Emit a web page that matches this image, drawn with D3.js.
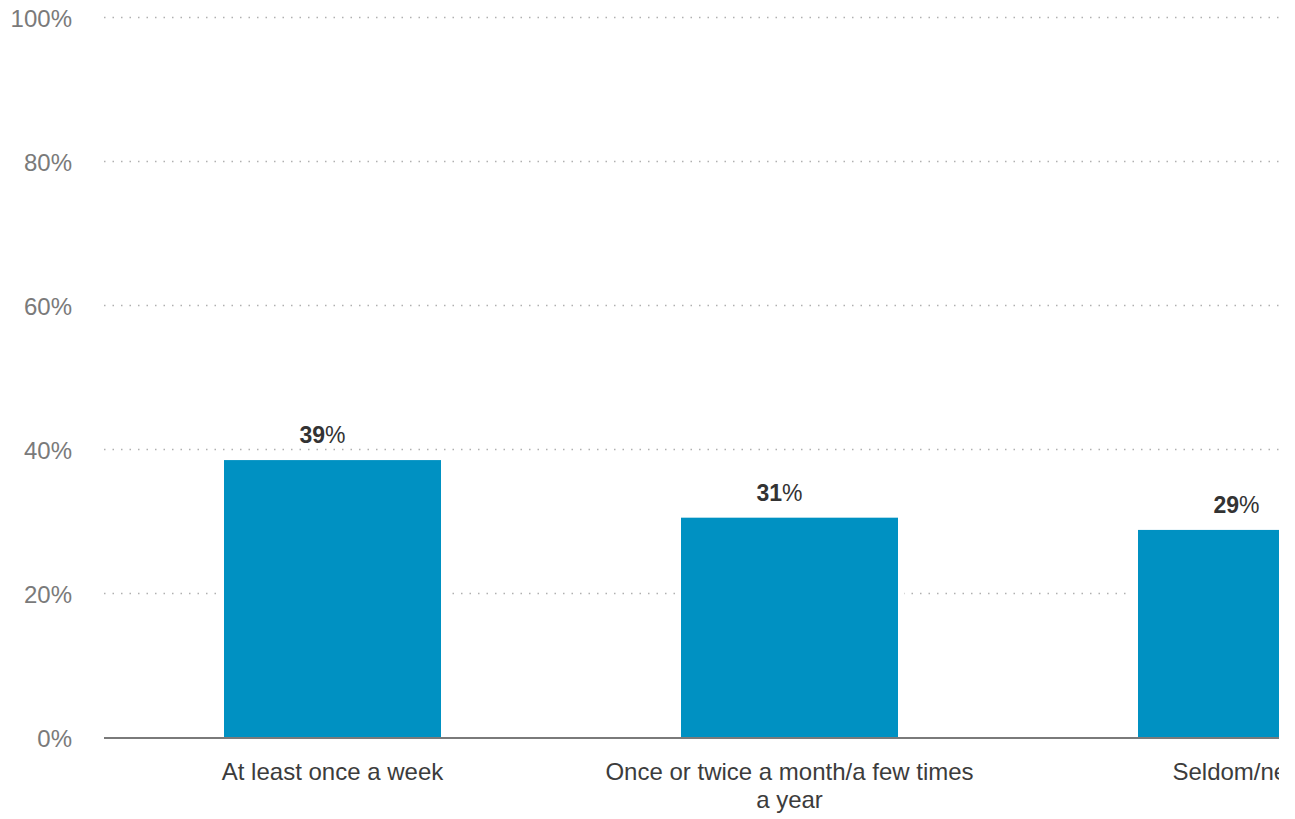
<!DOCTYPE html>
<html><head><meta charset="utf-8">
<script src="https://cdn.jsdelivr.net/npm/d3@7"></script>
<style>
html,body{margin:0;padding:0;background:#fff;overflow:hidden;}
svg{display:block;font-family:"Liberation Sans",Arial,sans-serif;}
</style></head>
<body>
<script>
const categories = ["At least once a week", "Once or twice a month/a few times a year", "Seldom/never"];
const values = [38.6, 30.6, 28.9];
const tickValues = [0, 20, 40, 60, 80, 100];
const tickLabels = ["0%", "20%", "40%", "60%", "80%", "100%"];

const W = 1279, H = 819;
const svg = d3.select("body").append("svg").attr("width", W).attr("height", H);

const y = d3.scaleLinear().domain([0, 100]).range([738, 18]);
const x = d3.scaleBand().domain(categories).range([104, 1475]).paddingInner(240/457).paddingOuter(120/457);

// gridlines
svg.append("g").selectAll("line").data(tickValues.filter(d => d > 0)).join("line")
  .attr("x1", 104).attr("x2", W)
  .attr("y1", d => y(d) - 0.5).attr("y2", d => y(d) - 0.5)
  .attr("stroke", "#b0b0b0").attr("stroke-width", 1.5).attr("stroke-dasharray", "1.5,7");

// tick labels
svg.append("g").selectAll("text").data(tickValues).join("text")
  .attr("x", 72).attr("y", d => y(d)).attr("dy", "0.36em")
  .attr("text-anchor", "end").attr("fill", "#7a7a7a").attr("font-size", 24)
  .text((d, i) => tickLabels[i]);

// white halos behind bars
svg.append("g").selectAll("rect").data(values).join("rect")
  .attr("x", (d, i) => x(categories[i]) - 6).attr("width", x.bandwidth() + 12)
  .attr("y", d => y(d) - 4).attr("height", d => y(0) - y(d) + 4)
  .attr("fill", "#fff");

// bars
svg.append("g").selectAll("rect").data(values).join("rect")
  .attr("x", (d, i) => x(categories[i])).attr("width", x.bandwidth())
  .attr("y", d => y(d)).attr("height", d => y(0) - y(d))
  .attr("fill", "#0091c2");

// baseline
svg.append("line").attr("x1", 104).attr("x2", W).attr("y1", y(0)).attr("y2", y(0))
  .attr("stroke", "#7a7a7a").attr("stroke-width", 2);

// value labels
const vl = svg.append("g").selectAll("text").data(values).join("text")
  .attr("x", (d, i) => x(categories[i]) + x.bandwidth() / 2 - 10)
  .attr("y", d => y(d) - 17)
  .attr("text-anchor", "middle").attr("fill", "#333").attr("font-size", 23);
vl.append("tspan").attr("font-weight", "bold").text(d => Math.round(d));
vl.append("tspan").text("%");

// category labels with wrapping
const cl = svg.append("g").selectAll("text").data(categories).join("text")
  .attr("text-anchor", "middle").attr("fill", "#3c3c3c").attr("font-size", 24)
  .attr("x", d => x(d) + x.bandwidth() / 2).attr("y", 780);
cl.each(function(d) {
  const t = d3.select(this);
  const words = d.split(" ");
  let line = [], lines = [];
  const maxW = 380;
  const tmp = t.append("tspan");
  words.forEach(w => {
    line.push(w);
    tmp.text(line.join(" "));
    if (tmp.node().getComputedTextLength() > maxW && line.length > 1) {
      line.pop(); lines.push(line.join(" ")); line = [w];
    }
  });
  lines.push(line.join(" "));
  tmp.remove();
  lines.forEach((l, i) => {
    t.append("tspan").attr("x", x(d) + x.bandwidth() / 2).attr("dy", i === 0 ? 0 : 28).text(l);
  });
});
</script>
</body></html>
